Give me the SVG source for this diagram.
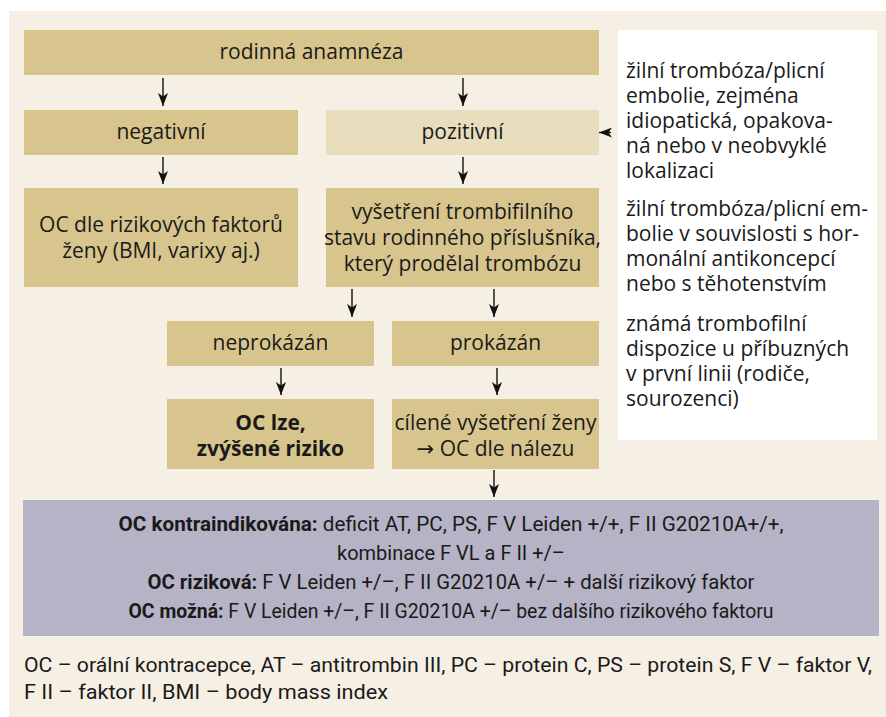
<svg xmlns="http://www.w3.org/2000/svg" width="886" height="717" viewBox="0 0 886 717">
<style>
.bg{fill:#F5EFE4}
.box{fill:#D8C58D}
.light{fill:#E8DDBC}
.panel{fill:#FFFFFF}
.purple{fill:#B5B3C5}
text{font-family:"Open Sans","Noto Sans",sans-serif;font-size:21px;fill:#1a1a1a}
.c{text-anchor:middle}
.b{font-weight:bold}
.cond{font-family:Roboto,"Open Sans",sans-serif;font-size:21px}
.foot{font-size:19.5px}
.sym{font-family:"DejaVu Sans",sans-serif}
.arr{stroke:#111;stroke-width:1.4;fill:none;marker-end:url(#ah)}
</style>
<defs>
<marker id="ah" markerUnits="userSpaceOnUse" viewBox="0 0 13 10" refX="13" refY="5" markerWidth="13" markerHeight="10" orient="auto">
<path d="M0,0 L13,5 L0,10 L3.5,5 z" fill="#111"/>
</marker>
</defs>
<rect class="bg" x="9" y="11" width="877" height="706"/>

<g id="rodinna">
<rect class="box" x="24" y="30" width="575" height="45"/>
<text class="c" x="311.5" y="59">rodinná anamnéza</text>
</g>
<g id="negativni">
<rect class="box" x="24" y="110" width="274" height="45"/>
<text class="c" x="161" y="139">negativní</text>
</g>
<g id="pozitivni">
<rect class="light" x="326" y="110" width="273" height="45"/>
<text class="c" x="462.5" y="139">pozitivní</text>
</g>
<g id="oc-dle">
<rect class="box" x="24" y="188" width="274" height="99"/>
<text class="c" x="161" y="232">OC dle rizikových faktorů</text>
<text class="c" x="161" y="258">ženy (BMI, varixy aj.)</text>
</g>
<g id="vysetreni">
<rect class="box" x="326" y="188" width="273" height="99"/>
<text class="c" x="462.5" y="219">vyšetření trombifilního</text>
<text class="c" x="462.5" y="245">stavu rodinného příslušníka,</text>
<text class="c" x="462.5" y="271">který prodělal trombózu</text>
</g>
<g id="neprokazan">
<rect class="box" x="167" y="321" width="207" height="45"/>
<text class="c" x="270.5" y="350">neprokázán</text>
</g>
<g id="prokazan">
<rect class="box" x="392" y="321" width="207" height="45"/>
<text class="c" x="495.5" y="350">prokázán</text>
</g>
<g id="oc-lze">
<rect class="box" x="167" y="399" width="207" height="70"/>
<text class="c b" x="270.5" y="430">OC lze,</text>
<text class="c b" x="270.5" y="456">zvýšené riziko</text>
</g>
<g id="cilene">
<rect class="box" x="392" y="399" width="207" height="70"/>
<text class="c" x="495.5" y="430">cílené vyšetření ženy</text>
<text class="c" x="495.5" y="456"><tspan class="sym">→</tspan> OC dle nálezu</text>
</g>
<g id="kriteria">
<rect class="panel" x="618" y="30" width="259" height="410"/>
<text x="626" y="78">žilní trombóza/plicní</text>
<text x="626" y="103">embolie, zejména</text>
<text x="626" y="128">idiopatická, opakova-</text>
<text x="626" y="153">ná nebo v neobvyklé</text>
<text x="626" y="178">lokalizaci</text>
<text x="626" y="216">žilní trombóza/plicní em-</text>
<text x="626" y="241">bolie v souvislosti s hor-</text>
<text x="626" y="266">monální antikoncepcí</text>
<text x="626" y="291">nebo s těhotenstvím</text>
<text x="626" y="331">známá trombofilní</text>
<text x="626" y="356">dispozice u příbuzných</text>
<text x="626" y="381">v první linii (rodiče,</text>
<text x="626" y="406">sourozenci)</text>
</g>
<g id="vysledek">
<rect class="purple" x="23" y="500" width="856" height="136"/>
<text class="c cond" x="451" y="531" textLength="665" lengthAdjust="spacingAndGlyphs"><tspan class="b">OC kontraindikována:</tspan> deficit AT, PC, PS, F V Leiden +/+, F II G20210A+/+,</text>
<text class="c cond" x="451" y="560" textLength="228" lengthAdjust="spacingAndGlyphs">kombinace F VL a F II +/–</text>
<text class="c cond" x="451" y="589" textLength="607" lengthAdjust="spacingAndGlyphs"><tspan class="b">OC riziková:</tspan> F V Leiden +/–, F II G20210A +/– + další rizikový faktor</text>
<text class="c cond" x="451" y="618" textLength="645" lengthAdjust="spacingAndGlyphs"><tspan class="b">OC možná:</tspan> F V Leiden +/–, F II G20210A +/– bez dalšího rizikového faktoru</text>
</g>
<g id="legenda">
<text class="cond foot" x="24" y="672" textLength="848" lengthAdjust="spacingAndGlyphs">OC – orální kontracepce, AT – antitrombin III, PC – protein C, PS – protein S, F V – faktor V,</text>
<text class="cond foot" x="24" y="699" textLength="364" lengthAdjust="spacingAndGlyphs">F II – faktor II, BMI – body mass index</text>
</g>
<g id="connectors">
<line class="arr" x1="163" y1="78" x2="163" y2="106"/>
<line class="arr" x1="463" y1="78" x2="463" y2="106"/>
<line class="arr" x1="163" y1="157" x2="163" y2="184"/>
<line class="arr" x1="463" y1="157" x2="463" y2="184"/>
<line class="arr" x1="352" y1="289" x2="352" y2="317"/>
<line class="arr" x1="494" y1="289" x2="494" y2="317"/>
<line class="arr" x1="281" y1="368" x2="281" y2="395"/>
<line class="arr" x1="497" y1="368" x2="497" y2="395"/>
<line class="arr" x1="494" y1="470" x2="494" y2="497"/>
<line class="arr" x1="611" y1="132.5" x2="599" y2="132.5"/>
</g>
</svg>
